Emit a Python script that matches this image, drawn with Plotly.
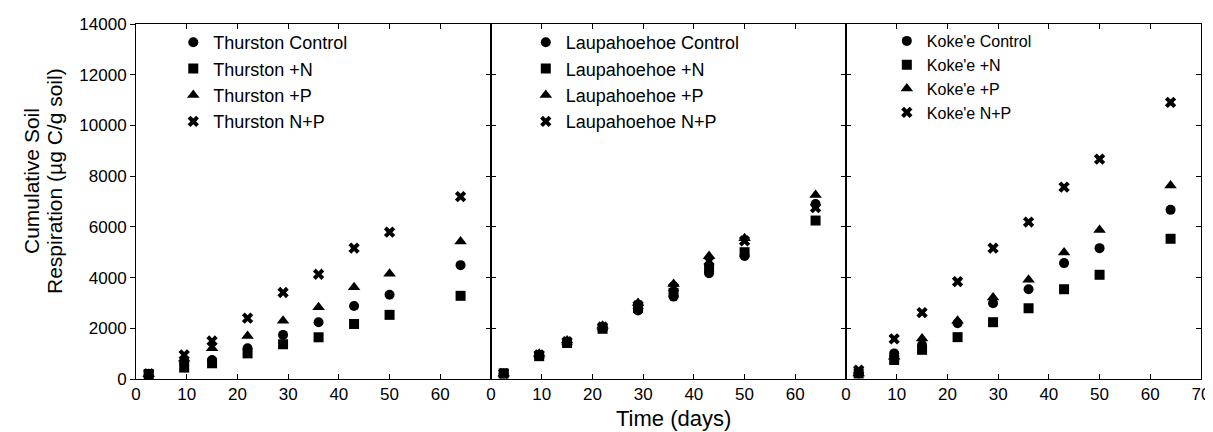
import plotly.graph_objects as go

days = [2.5, 9.5, 15, 22, 29, 36, 43, 50, 64]

thurston_control = [200, 650, 750, 1210, 1740, 2240, 2880, 3320, 4490]
thurston_n = [200, 450, 620, 1010, 1370, 1645, 2170, 2530, 3280]
thurston_p = [200, 800, 1210, 1700, 2300, 2830, 3620, 4150, 5420]
thurston_np = [200, 950, 1500, 2400, 3410, 4130, 5160, 5790, 7190]

laup_control = [220, 950, 1470, 2030, 2700, 3250, 4170, 4850, 6900]
laup_n = [220, 900, 1420, 1980, 2800, 3400, 4350, 5000, 6250]
laup_p = [220, 1000, 1520, 2100, 3000, 3750, 4850, 5550, 7260]
laup_np = [220, 950, 1470, 2050, 2900, 3600, 4650, 5450, 6760]

kokee_control = [220, 1010, 1340, 2200, 2990, 3540, 4570, 5160, 6670]
kokee_n = [220, 750, 1150, 1650, 2240, 2790, 3540, 4110, 5530]
kokee_p = [220, 880, 1600, 2300, 3210, 3910, 4990, 5880, 7630]
kokee_np = [350, 1580, 2620, 3840, 5160, 6190, 7570, 8670, 10910]

sites = [
    ("Thurston", [thurston_control, thurston_n, thurston_p, thurston_np]),
    ("Laupahoehoe", [laup_control, laup_n, laup_p, laup_np]),
    ("Koke'e", [kokee_control, kokee_n, kokee_p, kokee_np]),
]
treatments = ["Control", "+N", "+P", "N+P"]
symbols = ["circle", "square", "triangle-up", "x"]
sizes = [10, 10, 11, 10]

xtick_sets = [[0, 10, 20, 30, 40, 50, 60], [0, 10, 20, 30, 40, 50, 60],
              [0, 10, 20, 30, 40, 50, 60, 70]]
ytickvals = [0, 2000, 4000, 6000, 8000, 10000, 12000, 14000]

fig = go.Figure()
FONT = "Liberation Sans, Arial, sans-serif"

legend_names = ["legend", "legend2", "legend3"]
for i, (site, series) in enumerate(sites):
    ax = "" if i == 0 else str(i + 1)
    for t, vals, sym, sz in zip(treatments, series, symbols, sizes):
        fig.add_trace(go.Scatter(
            x=days, y=vals, mode="markers",
            name=f"{site} {t}",
            marker=dict(symbol=sym, size=sz, color="black",
                        line=dict(width=0, color="black")),
            xaxis="x" + ax, yaxis="y" + ax,
            legend=legend_names[i],
        ))

# extra overlay axis for inside ticks on the right of panel 1
fig.add_trace(go.Scatter(x=[None], y=[None], xaxis="x", yaxis="y4",
                         showlegend=False, hoverinfo="skip"))

domains = [[0, 1/3], [1/3, 2/3], [2/3, 1]]

axis_common = dict(showgrid=False, zeroline=False, showline=True,
                   linecolor="black", linewidth=1, tickcolor="black",
                   ticklen=5, tickwidth=1, automargin=False,
                   tickfont=dict(family=FONT, size=17, color="black"))

layout = dict(
    width=1213, height=432,
    margin=dict(l=128, r=20, t=16, b=61, autoexpand=False),
    paper_bgcolor="white", plot_bgcolor="white",
    font=dict(family=FONT, color="black"),
)

for i in range(3):
    ax = "" if i == 0 else str(i + 1)
    layout["xaxis" + ax] = dict(
        domain=domains[i], range=[0, 70], anchor="y" + ax,
        tickvals=xtick_sets[i], ticks="inside", mirror="ticks",
        **axis_common)
    yax = dict(domain=[0, 1], range=[0, 14000], anchor="x" + ax,
               tickvals=ytickvals, tickformat="d", **axis_common)
    if i == 0:
        yax.update(ticks="outside", mirror=True, showticklabels=True)
    else:
        yax.update(ticks="inside", mirror="ticks", showticklabels=False)
    layout["yaxis" + ax] = yax

layout["yaxis4"] = dict(overlaying="y", side="right", anchor="x",
                        range=[0, 14000], tickvals=ytickvals,
                        ticks="inside", showticklabels=False,
                        showgrid=False, zeroline=False, showline=False,
                        ticklen=5, tickcolor="black", automargin=False)

leg_common = dict(font=dict(family=FONT, size=18, color="black"),
                  bgcolor="rgba(0,0,0,0)", borderwidth=0,
                  xanchor="left", yanchor="top", itemwidth=30)
layout["legend"] = dict(x=0.035, y=1.0, **leg_common)
layout["legend2"] = dict(x=0.366, y=1.0, **leg_common)
layout["legend3"] = dict(x=0.705, y=1.0,
                         **{**leg_common, "font": dict(family=FONT, size=16, color="black")})

layout["annotations"] = [
    dict(text="Cumulative Soil",
         xref="paper", yref="paper", x=(23 - 128) / 1065, y=(371 - 173) / 355,
         xanchor="center", yanchor="middle", textangle=-90,
         showarrow=False, font=dict(family=FONT, size=21, color="black")),
    dict(text="Respiration (µg C/g soil)",
         xref="paper", yref="paper", x=(46 - 128) / 1065, y=(371 - 173) / 355,
         xanchor="center", yanchor="middle", textangle=-90,
         showarrow=False, font=dict(family=FONT, size=21, color="black")),
    dict(text="Time (days)", xref="paper", yref="paper",
         x=(665 - 128) / 1065, y=0, yshift=-39,
         xanchor="center", yanchor="middle", showarrow=False,
         font=dict(family=FONT, size=22, color="black")),
]

fig.update_layout(**layout)
fig.write_html("out.html")
